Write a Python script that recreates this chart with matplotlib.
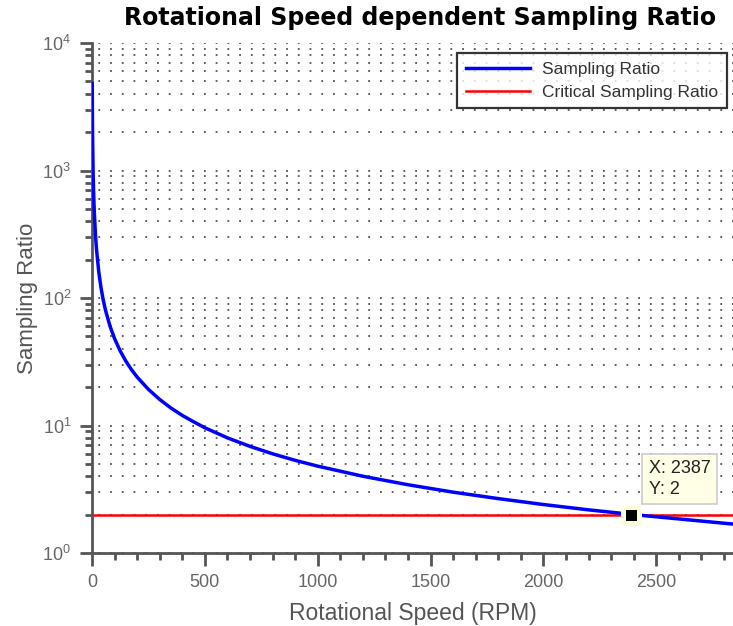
import matplotlib
matplotlib.use("Agg")
import matplotlib.pyplot as plt
from matplotlib.ticker import MultipleLocator, LogLocator, NullFormatter, FixedLocator

# Data
rpm = [1, 2, 3, 5, 7, 10, 15, 20, 30, 40, 50, 60, 80, 100, 125, 150, 175, 200, 250,
       300, 350, 400, 450, 500, 600, 700, 800, 900, 1000, 1200, 1400, 1600, 1800,
       2000, 2200, 2400, 2600, 2850]
ratio = [4800, 2400, 1600, 960, 686, 480, 320, 240, 160, 120, 96, 80, 60, 48, 38.4,
         32, 27.4, 24, 19.2, 16, 13.7, 12, 10.7, 9.6, 8.0, 6.86, 6.0, 5.33, 4.8, 4.0,
         3.43, 3.0, 2.67, 2.4, 2.18, 2.0, 1.85, 1.68]
critical_ratio = 2
tip_x, tip_y = 2387, 2

x_ticks = [0, 500, 1000, 1500, 2000, 2500]

plt.rcParams['font.family'] = ['Liberation Sans', 'DejaVu Sans']

fig = plt.figure(figsize=(7.33, 6.26), dpi=100)
ax = fig.add_axes([92/733, 73/626, 1 - 92/733, (553-43)/626])

gray = '#555555'
ax.set_yscale('log')
ax.set_xlim(0, 2840)
ax.set_ylim(1, 1e4)

ax.plot(rpm, ratio, color='#0000ff', lw=2.5, label='Sampling Ratio', zorder=3)
ax.axhline(critical_ratio, color='#ff0000', lw=1.8, label='Critical Sampling Ratio', zorder=2)

# data tip
ax.plot([tip_x], [tip_y], marker='s', ms=12.2, color='black', mec='#ffffdc', mew=3.6,
        zorder=5, clip_on=False)
ax.annotate(f'X: {tip_x}\nY: {tip_y}', xy=(tip_x, tip_y), xytext=(13, 12), textcoords='offset points',
            fontsize=13, color='#222222', ha='left', va='bottom', linespacing=1.3,
            bbox=dict(boxstyle='square,pad=0.35', fc='#ffffe6', ec='#cccccc', lw=1.2), zorder=6)

for s in ['top', 'right']:
    ax.spines[s].set_visible(False)
for s in ['left', 'bottom']:
    ax.spines[s].set_color(gray)
    ax.spines[s].set_linewidth(2)

ax.xaxis.set_major_locator(FixedLocator(x_ticks))
ax.xaxis.set_minor_locator(MultipleLocator(100))
ax.yaxis.set_major_locator(LogLocator(base=10, numticks=10))
ax.yaxis.set_minor_locator(LogLocator(base=10, subs=range(2, 10), numticks=20))
ax.yaxis.set_minor_formatter(NullFormatter())

ax.tick_params(which='major', direction='out', length=9, width=2, color=gray,
               labelsize=13, labelcolor='#666666', pad=6)
ax.tick_params(which='minor', direction='out', length=5, width=2, color=gray)

ax.yaxis.grid(True, which='both', color='#333333', lw=1.3, linestyle=(3, (1, 5.5)), alpha=0.85)
ax.set_axisbelow(True)

ax.set_xlabel('Rotational Speed (RPM)', fontsize=16.5, color=gray, labelpad=8)
ax.set_ylabel('Sampling Ratio', fontsize=16, color=gray, labelpad=3)
fig.suptitle('Rotational Speed dependent Sampling Ratio', fontsize=17, fontweight='bold',
             family=['DejaVu Sans'], x=0.573, y=0.99)

leg = ax.legend(loc='upper right', bbox_to_anchor=(1 - 6/641, 1 - 10/510), borderaxespad=0,
                fontsize=12.5, frameon=True, fancybox=False, edgecolor='black', handlelength=3.7,
                borderpad=0.5, labelspacing=0.45, handletextpad=0.7)
leg.get_frame().set_linewidth(1.6)
for t in leg.get_texts():
    t.set_color('#333333')

fig.savefig('out.png', dpi=100)
